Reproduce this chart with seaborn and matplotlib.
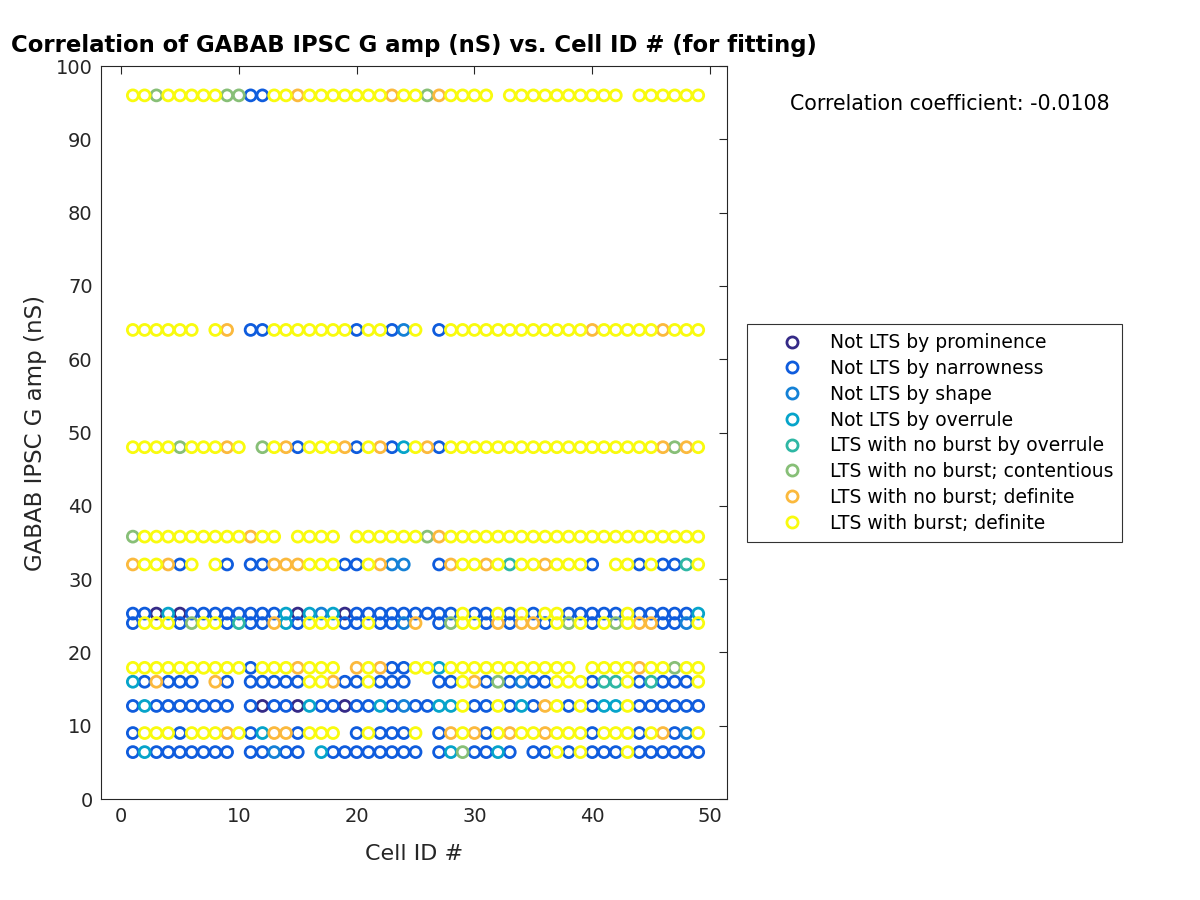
import numpy as np
import matplotlib
matplotlib.use('Agg')
import matplotlib.pyplot as plt
from matplotlib.lines import Line2D
import pandas as pd
import seaborn as sns

sns.set_style('white')
plt.rcParams['font.family'] = ['DejaVu Sans']

# category names (legend order) and their colours (parula-like)
categories = ['Not LTS by prominence', 'Not LTS by narrowness', 'Not LTS by shape',
              'Not LTS by overrule', 'LTS with no burst by overrule',
              'LTS with no burst; contentious', 'LTS with no burst; definite',
              'LTS with burst; definite']
colors = ['#352a87', '#0f5cdd', '#1481d6', '#06a4ca',
          '#2eb7a4', '#87bf77', '#fbb93d', '#f9fb0e']

# GABAB amplitude levels (nS)
levels = [96, 64, 48, 35.8, 32, 25.3, 24, 17.9, 16, 12.7, 9, 6.4]

# one char per cell ID 1..49: category index, '.' = no point
row_96 = "7757777755" "1177677777" "7767756777" "7.77777777" "77.777777"
row_64 = "777777.76." "1177777771" "77127.1777" "7777777776" "777776777"
row_48 = "7777577767" ".576177761" "7613761777" "7777777777" "777776567"
row_358 = "5777777777" "677.7777.7" "7777756777" "7777777777" "777777777"
row_32 = "677617.71." "1166677711" "7622..1677" "6747767771" ".77171147"
row_253 = "1103011111" "1113032301" "1111111171" "1717177111" "117111113"
row_24 = "1777157714" "1163177711" "71126.1577" "1616617571" "757661127"
row_179 = "7777777777" "17776777.6" "7611773777" "77777777.7" "777677577"
row_16 = "316111.61." "1111177611" "7111..1176" "1512117771" "447141117"
row_127 = "131111111." "1011031101" "1312113371" "1713167171" "337111111"
row_9 = "1777177767" "13661777.1" "71117.1676" "1767767771" "777176127"
row_64b = "131111111." "11211.3111" "11111.1351" "131.117171" "117111111"

rows = [row_96, row_64, row_48, row_358, row_32, row_253,
        row_24, row_179, row_16, row_127, row_9, row_64b]

corr_text = 'Correlation coefficient: -0.0108'

recs = []
for lev, r in zip(levels, rows):
    for i, ch in enumerate(r):
        if ch != '.':
            recs.append((i + 1, lev, int(ch)))
df = pd.DataFrame(recs, columns=['cell', 'amp', 'cat'])
df = df.sort_values('cat', kind='stable')
df['label'] = [categories[c] for c in df['cat']]

fig = plt.figure(figsize=(12, 9), dpi=100)
ax = fig.add_axes([0.0842, 0.1122, 0.5217, 0.8144])

sns.scatterplot(data=df, x='cell', y='amp', hue='label', hue_order=categories,
                palette=colors, s=62, linewidth=2.0, legend=False, ax=ax)
# open circles like the original
coll = ax.collections[0]
fc = coll.get_facecolors()
coll.set_edgecolors(fc)
coll.set_facecolors('none')
coll.set_linewidths(2.0)

ax.set_xlim(-1.7, 51.45)
ax.set_ylim(0, 100)
ax.set_xticks(np.arange(0, 51, 10))
ax.set_yticks(np.arange(0, 101, 10))
ax.tick_params(direction='in', length=5.5, width=0.8, labelsize=14,
               colors='#262626', top=True, right=True, pad=6)
for sp in ax.spines.values():
    sp.set_visible(True)
    sp.set_color('#262626')
    sp.set_linewidth(0.8)

ax.set_xlabel('Cell ID #', fontsize=16, color='#262626', labelpad=13)
ax.set_ylabel('GABAB IPSC G amp (nS)', fontsize=16.5, color='#262626', labelpad=6)
ax.set_title('Correlation of GABAB IPSC G amp (nS) vs. Cell ID # (for fitting)',
             fontsize=16.4, fontweight='bold', color='black', pad=10)

fig.text(0.658, 0.885, corr_text, fontsize=14.8, va='center', color='black')

handles = [Line2D([], [], linestyle='none', marker='o', markersize=8,
                  markerfacecolor='none', markeredgecolor=c, markeredgewidth=2.0)
           for c in colors]
leg = fig.legend(handles, categories, loc='center left',
                 bbox_to_anchor=(0.6225, 0.519), fontsize=13.5,
                 frameon=True, fancybox=False, edgecolor='black',
                 labelspacing=0.36, handletextpad=0.15, borderpad=0.5,
                 handlelength=3.75, borderaxespad=0, labelcolor='black')
leg.get_frame().set_linewidth(0.8)

fig.savefig('out.png', dpi=100)
